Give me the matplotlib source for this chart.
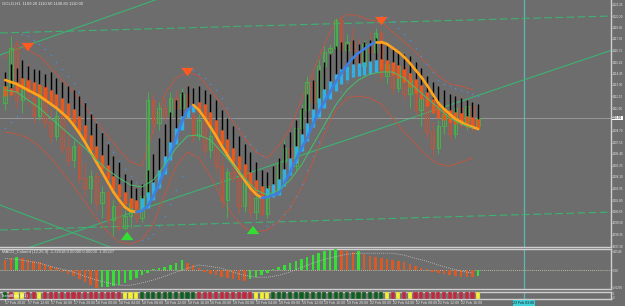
import matplotlib
matplotlib.use('Agg')
import matplotlib.pyplot as plt
from matplotlib.patches import Rectangle
from matplotlib.collections import LineCollection

plt.rcParams['font.family'] = ['Liberation Sans', 'DejaVu Sans']

# ---------------- data ----------------
title_text = "GOLD,H1  1109.20 1110.60 1108.80 1110.00"
macd_text = "MACD_Colored (12,26,9) -1.32518 0.00000 0.00000 -1.05227"
strip_text = "TrendBars (H1)"

opens = [1111.5, 1113.2, 1117.0, 1111.8, 1113.9, 1112.0, 1110.2, 1113.2, 1109.6, 1108.2, 1110.2, 1107.0,
         1105.8, 1107.2, 1104.0, 1103.0, 1104.2, 1101.5, 1102.6, 1099.8, 1101.2, 1099.0, 1100.2, 1101.5,
         1100.0, 1102.2, 1111.8, 1109.5, 1111.0, 1110.2, 1112.0, 1111.0, 1112.4, 1110.2, 1108.2, 1109.8,
         1106.8, 1108.2, 1105.2, 1101.8, 1104.6, 1104.0, 1101.2, 1103.6, 1100.6, 1102.0, 1100.4, 1103.2,
         1102.8, 1105.6, 1107.0, 1105.2, 1109.0, 1110.8, 1113.6, 1111.6, 1115.2, 1116.6, 1117.0, 1119.8,
         1116.8, 1117.6, 1116.8, 1115.2, 1117.4, 1116.6, 1118.5, 1114.2, 1115.4, 1113.0, 1115.2, 1112.4,
         1113.8, 1110.8, 1112.0, 1108.6, 1107.0, 1109.2, 1110.4, 1108.4, 1111.0, 1109.6, 1111.2, 1109.2]
highs = [1114.0, 1118.2, 1117.8, 1114.5, 1115.5, 1113.0, 1114.0, 1113.8, 1111.5, 1110.8, 1110.6, 1108.5,
         1107.8, 1107.6, 1105.5, 1104.8, 1104.6, 1103.2, 1103.0, 1101.8, 1101.6, 1100.8, 1102.0, 1101.9,
         1102.8, 1112.6, 1112.4, 1111.6, 1112.0, 1112.6, 1112.8, 1113.0, 1113.4, 1111.0, 1110.4, 1110.2,
         1108.8, 1108.6, 1106.0, 1105.0, 1106.4, 1104.6, 1104.2, 1104.0, 1102.4, 1102.6, 1103.8, 1104.8,
         1106.0, 1107.8, 1107.6, 1109.4, 1111.4, 1114.2, 1114.4, 1115.8, 1117.2, 1117.4, 1120.0, 1120.2,
         1118.4, 1119.0, 1118.0, 1117.8, 1118.6, 1119.0, 1118.9, 1116.0, 1116.6, 1115.8, 1115.6, 1114.6,
         1114.2, 1112.6, 1112.4, 1109.6, 1109.8, 1111.0, 1110.8, 1111.6, 1112.2, 1111.8, 1111.6, 1110.6]
lows = [1110.8, 1112.6, 1111.0, 1110.5, 1111.2, 1109.5, 1109.8, 1109.0, 1107.5, 1107.8, 1106.5, 1105.2,
        1105.0, 1103.5, 1102.2, 1101.5, 1100.8, 1100.0, 1099.0, 1098.2, 1098.8, 1098.9, 1099.0, 1099.5,
        1099.6, 1101.8, 1108.5, 1108.8, 1109.8, 1109.6, 1110.4, 1110.6, 1109.8, 1107.6, 1107.8, 1106.2,
        1106.0, 1104.5, 1101.0, 1100.0, 1103.6, 1100.4, 1100.6, 1100.0, 1099.9, 1100.2, 1100.0, 1102.2,
        1102.4, 1104.8, 1104.6, 1104.8, 1108.2, 1110.2, 1110.8, 1111.0, 1114.2, 1115.8, 1116.2, 1116.0,
        1115.2, 1116.4, 1114.6, 1114.8, 1116.2, 1116.0, 1113.6, 1113.4, 1112.4, 1112.6, 1111.8, 1111.0,
        1110.2, 1109.2, 1108.0, 1106.2, 1106.4, 1108.4, 1107.8, 1108.0, 1109.0, 1108.8, 1108.6, 1108.8]
closes = [1113.2, 1117.0, 1111.8, 1113.9, 1112.0, 1110.2, 1113.2, 1109.6, 1108.2, 1110.2, 1107.0, 1105.8,
          1107.2, 1104.0, 1103.0, 1104.2, 1101.5, 1102.6, 1099.8, 1101.2, 1099.0, 1100.2, 1101.5, 1100.0,
          1102.2, 1111.8, 1109.5, 1111.0, 1110.2, 1112.0, 1111.0, 1112.4, 1110.2, 1108.2, 1109.8, 1106.8,
          1108.2, 1105.2, 1101.8, 1104.6, 1104.0, 1101.2, 1103.6, 1100.6, 1102.0, 1100.4, 1103.2, 1102.8,
          1105.6, 1107.0, 1105.2, 1109.0, 1110.8, 1113.6, 1111.6, 1115.2, 1116.6, 1117.0, 1119.8, 1116.8,
          1117.6, 1116.8, 1115.2, 1117.4, 1116.6, 1118.5, 1114.2, 1115.4, 1113.0, 1115.2, 1112.4, 1113.8,
          1110.8, 1112.0, 1108.6, 1107.0, 1109.2, 1110.4, 1108.4, 1111.0, 1109.6, 1111.2, 1109.2, 1110.0]

# thick smoothed line (orange falling / blue rising)
hma = [1113.8, 1113.6, 1113.4, 1113.1, 1112.8, 1112.5, 1112.2, 1111.8, 1111.4, 1111.0, 1110.5, 1110.0,
       1109.3, 1108.5, 1107.6, 1106.6, 1105.6, 1104.6, 1103.6, 1102.6, 1101.8, 1101.1, 1100.7, 1100.6,
       1100.7, 1101.2, 1102.2, 1103.4, 1104.8, 1106.3, 1108.0, 1109.6, 1110.8, 1111.3, 1110.8, 1110.0,
       1109.1, 1108.2, 1107.2, 1106.3, 1105.4, 1104.6, 1103.8, 1103.0, 1102.4, 1102.0, 1102.1, 1102.3,
       1102.5, 1103.5, 1104.6, 1105.8, 1107.0, 1108.0, 1109.4, 1110.6, 1111.6, 1112.6, 1113.6, 1114.5,
       1115.3, 1116.0, 1116.5, 1116.9, 1117.3, 1117.6, 1117.6, 1117.4, 1117.0, 1116.6, 1116.1, 1115.5,
       1114.8, 1114.1, 1113.3, 1112.4, 1111.5, 1110.9, 1110.4, 1109.9, 1109.6, 1109.3, 1109.1, 1108.9]

# heiken-ashi style bars: body bottom, body top, black top
ha_lo = [1112.2, 1112.3, 1112.6, 1112.9, 1112.6, 1112.4, 1112.1, 1111.8, 1111.4, 1111.1, 1110.6, 1110.1,
         1109.5, 1108.7, 1107.8, 1106.8, 1105.9, 1104.9, 1103.9, 1102.9, 1102.1, 1101.4, 1101.0, 1100.9,
         1100.8, 1101.0, 1101.8, 1103.0, 1104.4, 1105.8, 1107.4, 1108.8, 1110.0, 1110.6, 1110.6, 1110.0,
         1109.2, 1108.3, 1107.4, 1106.5, 1105.6, 1104.8, 1104.0, 1103.2, 1102.6, 1102.2, 1102.0, 1102.1,
         1102.3, 1103.2, 1104.3, 1105.5, 1106.7, 1107.7, 1109.1, 1110.1, 1111.0, 1111.9, 1112.7, 1113.4,
         1113.8, 1114.1, 1114.2, 1114.3, 1114.4, 1114.6, 1114.8, 1114.6, 1114.3, 1114.0, 1113.6, 1113.1,
         1112.5, 1111.9, 1111.2, 1110.5, 1110.0, 1109.8, 1109.6, 1109.4, 1109.3, 1109.1, 1109.0, 1108.9]
ha_mid = [1113.2, 1113.0, 1113.6, 1114.0, 1113.8, 1113.6, 1113.4, 1113.1, 1112.8, 1112.4, 1112.0, 1111.5,
          1110.9, 1110.2, 1109.3, 1108.3, 1107.2, 1106.3, 1105.3, 1104.2, 1103.4, 1102.6, 1102.0, 1101.8,
          1102.0, 1102.6, 1103.6, 1104.8, 1106.2, 1107.6, 1109.0, 1110.2, 1111.0, 1111.4, 1111.6, 1111.4,
          1110.6, 1109.8, 1108.8, 1107.9, 1107.0, 1106.2, 1105.4, 1104.6, 1103.8, 1103.2, 1103.0, 1103.4,
          1103.9, 1104.9, 1106.0, 1107.2, 1108.4, 1109.5, 1110.9, 1112.0, 1112.9, 1113.7, 1114.4, 1114.9,
          1115.2, 1115.4, 1115.5, 1115.6, 1115.7, 1115.8, 1115.9, 1115.8, 1115.6, 1115.3, 1114.9, 1114.5,
          1113.9, 1113.3, 1112.6, 1111.9, 1111.4, 1111.0, 1110.8, 1110.6, 1110.5, 1110.2, 1110.1, 1109.9]
ha_hi = [1114.6, 1115.4, 1115.0, 1115.8, 1115.2, 1114.9, 1114.8, 1114.4, 1114.6, 1114.0, 1113.6, 1113.2,
         1112.8, 1112.2, 1111.6, 1110.4, 1109.5, 1108.6, 1107.4, 1106.2, 1105.6, 1104.4, 1103.8, 1103.0,
         1103.4, 1104.8, 1106.4, 1108.0, 1109.4, 1110.6, 1111.8, 1112.6, 1113.2, 1113.0, 1113.2, 1112.8,
         1112.4, 1111.8, 1110.8, 1110.0, 1109.2, 1108.2, 1107.4, 1106.6, 1105.6, 1104.8, 1104.6, 1105.2,
         1106.0, 1107.4, 1108.6, 1109.8, 1111.0, 1112.4, 1113.8, 1114.8, 1115.6, 1116.4, 1117.2, 1117.6,
         1117.4, 1117.8, 1117.4, 1117.6, 1117.8, 1118.0, 1117.6, 1117.2, 1117.0, 1116.8, 1116.4, 1116.2,
         1115.6, 1115.0, 1114.2, 1113.6, 1113.2, 1112.8, 1112.4, 1112.2, 1112.0, 1111.8, 1111.6, 1111.4]

# parabolic dots
sar = [1109.0, 1109.6, 1110.2, 1118.4, 1118.2, 1117.8, 1117.4, 1116.9, 1116.3, 1115.6, 1114.9, 1114.2,
       1113.5, 1112.6, 1111.6, 1110.6, 1109.6, 1108.6, 1107.6, 1106.6, 1105.7, 1104.9, 1104.2, 1103.6,
       1097.8, 1098.0, 1098.4, 1099.2, 1100.2, 1101.4, 1102.8, 1104.2, 1115.0, 1114.8, 1114.4, 1114.0,
       1113.4, 1112.8, 1112.0, 1111.0, 1110.0, 1109.0, 1108.2, 1107.4, 1106.8, 1106.2, 1099.2, 1099.4,
       1099.8, 1100.4, 1101.2, 1102.2, 1103.4, 1104.8, 1106.2, 1107.6, 1109.0, 1110.2, 1111.4, 1112.6,
       1113.6, 1114.4, 1115.0, 1115.4, 1115.6, 1115.8, 1120.2, 1120.0, 1119.6, 1119.0, 1118.4, 1117.8,
       1117.0, 1116.2, 1115.4, 1114.6, 1113.8, 1113.4, 1113.2, 1113.0, 1112.8, 1112.6, 1112.4, 1112.2]

# envelope lines and thin green average, read every second bar
even_bars = list(range(0, 84, 2))
band_up = [1116.0, 1117.4, 1116.8, 1116.2, 1115.0, 1113.8, 1112.6, 1111.2, 1109.6, 1108.2, 1106.8, 1105.6,
           1105.2, 1108.8, 1112.4, 1114.0, 1114.6, 1114.2, 1112.8, 1111.4, 1109.6, 1108.0, 1106.6, 1106.0,
           1107.2, 1109.0, 1111.8, 1114.6, 1117.4, 1119.6, 1120.4, 1120.2, 1119.8, 1119.6, 1118.6, 1117.6,
           1116.6, 1115.4, 1114.2, 1113.4, 1113.2, 1112.8]
band_dn = [1108.6, 1108.4, 1108.0, 1107.2, 1106.0, 1104.6, 1103.2, 1101.6, 1100.0, 1098.6, 1097.6, 1097.4,
           1097.8, 1099.4, 1102.4, 1105.2, 1106.6, 1106.0, 1104.2, 1102.0, 1100.2, 1099.0, 1098.6, 1098.8,
           1099.6, 1101.0, 1103.0, 1105.6, 1108.4, 1110.8, 1112.0, 1112.2, 1112.0, 1111.4, 1110.0, 1108.6,
           1107.4, 1106.2, 1105.4, 1105.2, 1105.6, 1106.0]
green_ma = [1112.8, 1112.6, 1111.8, 1111.0, 1110.0, 1109.0, 1108.0, 1107.0, 1105.8, 1104.8, 1104.0, 1103.3,
            1103.1, 1103.8, 1105.3, 1107.0, 1108.2, 1108.3, 1107.8, 1106.6, 1105.3, 1104.0, 1102.8, 1102.3,
            1102.8, 1103.8, 1105.3, 1107.3, 1109.3, 1111.3, 1112.8, 1113.8, 1114.4, 1114.6, 1114.6, 1114.0,
            1113.0, 1112.0, 1111.0, 1110.0, 1109.4, 1109.0]

# signal arrows (bar, price)
down_arrow_bars = [4, 32, 66]
down_arrow_prices = [1116.9, 1114.4, 1119.5]
up_arrow_bars = [21.4, 43.5]
up_arrow_prices = [1098.4, 1099.0]

# trend lines: (bar0, price0, bar1, price1, dashed)
trend_lines = [(-0.9, 1118.5, 106.5, 1120.2, True),
               (-0.9, 1098.8, 106.5, 1100.6, True),
               (-0.9, 1116.3, 29.8, 1122.5, False),
               (4.4, 1097.1, 106.5, 1116.8, False),
               (-0.9, 1101.3, 18.4, 1097.1, False)]

# MACD panel
macd = [2.1, 2.5, 2.9, 2.5, 2.3, 1.9, 1.7, 1.3, 0.8, 0.4, -0.4, -0.8,
        -1.3, -1.9, -2.5, -3.2, -3.8, -3.6, -3.5, -3.4, -3.2, -2.7, -2.1, -1.7,
        -1.1, -0.6, 0.2, 0.4, 0.6, 1.1, 1.5, 2.1, 1.5, 1.1, 0.4, -0.4,
        -0.8, -1.1, -1.5, -1.7, -1.9, -2.1, -2.3, -1.9, -1.5, -1.1, -0.6, 0.2,
        0.6, 1.1, 1.5, 1.9, 2.3, 2.7, 3.2, 3.6, 4.0, 4.2, 4.4, 4.2,
        4.0, 3.8, 4.0, 3.4, 3.0, 2.7, 2.5, 2.3, 2.1, 1.9, 1.7, 1.3,
        0.9, 0.4, 0.2, -0.4, -0.6, -0.8, -1.1, -1.3, -1.5, -1.5, -1.5, -1.3]
macd_state = ("OOG" "OOOOOOOOOOOOOO" "GGGGGGGGGGGGGGG" "OOOOOOOOOOO"
              "GGGGGGGGGGGGGGGG" "OOO" "G" "OOOOOOOOOOOOOOOOOOOO" "G")
macd_signal = [2.5, 2.3, 1.9, 1.5, 0.8, 0.2, -0.4, -1.3, -2.1, -2.7, -3.2, -3.2,
               -2.7, -2.1, -1.3, -0.4, 0.4, 1.1, 0.8, 0.4, -0.4, -1.1, -1.5, -1.5,
               -1.1, -0.4, 0.6, 1.5, 2.3, 2.9, 3.4, 3.6, 3.6, 3.6, 3.6, 3.2,
               2.5, 1.9, 1.1, 0.4, -0.2, -0.6]

# trend strip: G = dark green, R = red, Y = yellow
strip_state = ("GRYYRRY" "RRRRRRRRRRRRRR" "YYY" "GGGGGGGGGG" "RRRRRRRRRR" "YYY"
               "GGGGGGGGGGGGGGGGGGGG" "YRYRY" "RRRRRRRRRRR" "Y")

time_labels = ["17 Feb 2010", "17 Feb 12:00", "17 Feb 16:00", "17 Feb 20:00", "18 Feb 00:00",
               "18 Feb 04:00", "18 Feb 08:00", "18 Feb 12:00", "18 Feb 16:00", "18 Feb 20:00",
               "19 Feb 00:00", "19 Feb 04:00", "19 Feb 08:00", "19 Feb 12:00", "19 Feb 16:00",
               "19 Feb 20:00", "22 Feb 00:00", "22 Feb 04:00", "22 Feb 08:00", "22 Feb 12:00",
               "22 Feb 16:00"]
price_ticks = [1097.20, 1098.35, 1099.50, 1100.65, 1101.80, 1102.95, 1104.10, 1105.25, 1106.40,
               1107.55, 1108.70, 1111.00, 1112.15, 1113.30, 1114.45, 1115.60, 1116.75,
               1117.90, 1119.05, 1120.20, 1121.35]
macd_ticks = [4.05, 0.0, -3.6]
macd_tick_labels = ["4.0549", "0.00", "-3.6256"]
cursor_bar = 91
cursor_label = "23 Feb 03:00"

# ---------------- style ----------------
BG = '#6d6d6d'
TXT = '#e6e6e6'
EDGE = '#cfcfcf'
XLIM = (-0.9, 106.3)
FS = 2.2
RIGHT = 611

fig = plt.figure(figsize=(6.25, 3.06), dpi=100, facecolor=BG)
W, H = 625.0, 306.0


def panel(top, bottom):
    return fig.add_axes([0, 1 - bottom / H, RIGHT / W, (bottom - top) / H], facecolor=BG)


ax = panel(0, 247)
axm = panel(249, 289)
axs = panel(292, 299)

for a in (ax, axm, axs):
    a.set_xlim(*XLIM)
    a.spines['left'].set_visible(False)
    for s in ('top', 'bottom', 'right'):
        a.spines[s].set_color(EDGE)
        a.spines[s].set_linewidth(1.0)
    a.yaxis.tick_right()
    a.tick_params(axis='y', colors=TXT, labelsize=FS, length=1.0, width=0.5, pad=0.3)
    a.tick_params(axis='x', colors=TXT, labelsize=2.6, length=1.2, width=0.5, pad=0.5)
    a.axvline(cursor_bar, color='#5fb5b5', lw=0.9, zorder=1)
ax.spines['top'].set_visible(False)
ax.set_xticks([])
axm.set_xticks([])

n = len(closes)
xs = list(range(n))

# ----- main panel -----
ax.set_ylim(1097.1, 1121.8)
ax.set_yticks(price_ticks)
ax.set_yticklabels(["%.2f" % p for p in price_ticks])

for x0, p0, x1, p1, dashed in trend_lines:
    ax.plot([x0, x1], [p0, p1], color='#3cb371', lw=0.8,
            dashes=(7, 3) if dashed else (None, None), zorder=2)

ax.axhline(closes[-1], color='#a8a8a8', lw=0.5, zorder=2)

ax.plot(even_bars, band_up, color='#c8553d', lw=0.6, zorder=3)
ax.plot(even_bars, band_dn, color='#c8553d', lw=0.6, zorder=3)

for i in xs:
    bull = closes[i] >= opens[i]
    col = '#49b04a' if bull else '#b9583f'
    ax.vlines(i, lows[i], highs[i], color=col, lw=0.7, zorder=4)
    lo, hi = min(opens[i], closes[i]), max(opens[i], closes[i])
    ax.add_patch(Rectangle((i - 0.3, lo), 0.6, max(hi - lo, 0.05), fill=False,
                           edgecolor=col, lw=0.7, zorder=4))

rising = [hma[min(i + 1, n - 1)] > hma[i] if i == 0 else hma[i] > hma[i - 1] for i in xs]
body_cols = ['#2fb0e6' if r else '#e8581c' for r in rising]
ax.vlines(xs, ha_mid, ha_hi, color='black', lw=1.0, zorder=5)
ax.vlines(xs, ha_lo, ha_mid, colors=body_cols, lw=2.4, zorder=5)

segs = [[(i, hma[i]), (i + 1, hma[i + 1])] for i in range(n - 1)]
seg_cols = ['#3f7fe0' if hma[i + 1] > hma[i] else '#ffa31a' for i in range(n - 1)]
ax.add_collection(LineCollection(segs, colors=seg_cols, linewidths=1.9,
                                 capstyle='round', zorder=6))

ax.plot(even_bars, green_ma, color='#46c06a', lw=0.7, zorder=6)
ax.scatter(xs, sar, s=1.2, color='#4a90e2', zorder=7, linewidths=0)

for b, p in zip(down_arrow_bars, down_arrow_prices):
    ax.annotate('', xy=(b, p - 0.5), xytext=(b, p + 0.6),
                arrowprops=dict(arrowstyle='simple,head_width=0.9,head_length=0.6,tail_width=0.35',
                                color='#ff5a1f', lw=0), zorder=8)
for b, p in zip(up_arrow_bars, up_arrow_prices):
    ax.annotate('', xy=(b, p + 0.5), xytext=(b, p - 0.6),
                arrowprops=dict(arrowstyle='simple,head_width=0.9,head_length=0.6,tail_width=0.35',
                                color='#33dd33', lw=0), zorder=8)

ax.text(0.004, 0.995, title_text, transform=ax.transAxes, ha='left', va='top',
        fontsize=3.0, color=TXT)
ax.text(1.002, closes[-1], "%.2f" % closes[-1], transform=ax.get_yaxis_transform(),
        ha='left', va='center', fontsize=FS, color='black', clip_on=False,
        bbox=dict(boxstyle='square,pad=0.12', fc='white', ec='none'), zorder=10)

# ----- MACD panel -----
axm.set_ylim(-4.0, 4.5)
axm.set_yticks(macd_ticks)
axm.set_yticklabels(macd_tick_labels)
mcols = ['#33e033' if s == 'G' else '#d85a25' for s in macd_state]
axm.bar(xs, macd, width=0.45, color=mcols, zorder=3)
axm.axhline(0, color='#d8d8b0', lw=0.6, ls=(0, (1, 1.5)), zorder=2)
axm.plot(even_bars, macd_signal, color='#c8c8c8', lw=0.6, ls=(0, (1, 1.5)), zorder=4)
axm.text(0.004, 0.97, macd_text, transform=axm.transAxes, ha='left', va='top',
         fontsize=3.0, color=TXT)

# ----- trend strip -----
axs.set_ylim(0, 1)
axs.set_yticks([0.85, 0.2])
axs.set_yticklabels(["1", "0"])
axs.tick_params(axis='y', labelsize=2.0, pad=0.3)
scols = {'G': '#0d5e1f', 'R': '#c0283e', 'Y': '#f5f032'}
axs.bar(xs, [1] * n, width=0.72, bottom=0, color=[scols[s] for s in strip_state],
        edgecolor='#9a9a9a', linewidth=0.3, zorder=3)
axs.text(0.002, 0.5, strip_text, transform=axs.transAxes, ha='left', va='center',
         fontsize=2.8, color='white', zorder=5)
axs.set_xticks(list(range(0, 84, 4))[:len(time_labels)])
axs.set_xticklabels(time_labels, ha='left')

fig.text((5 + 5.7 * cursor_bar) / W, 1 - 303 / H, cursor_label, ha='center', va='center',
         fontsize=2.6, color='#1a1a1a',
         bbox=dict(boxstyle='square,pad=0.15', fc='#3fd0d8', ec='none'))

fig.savefig('out.png', dpi=100, facecolor=BG)
